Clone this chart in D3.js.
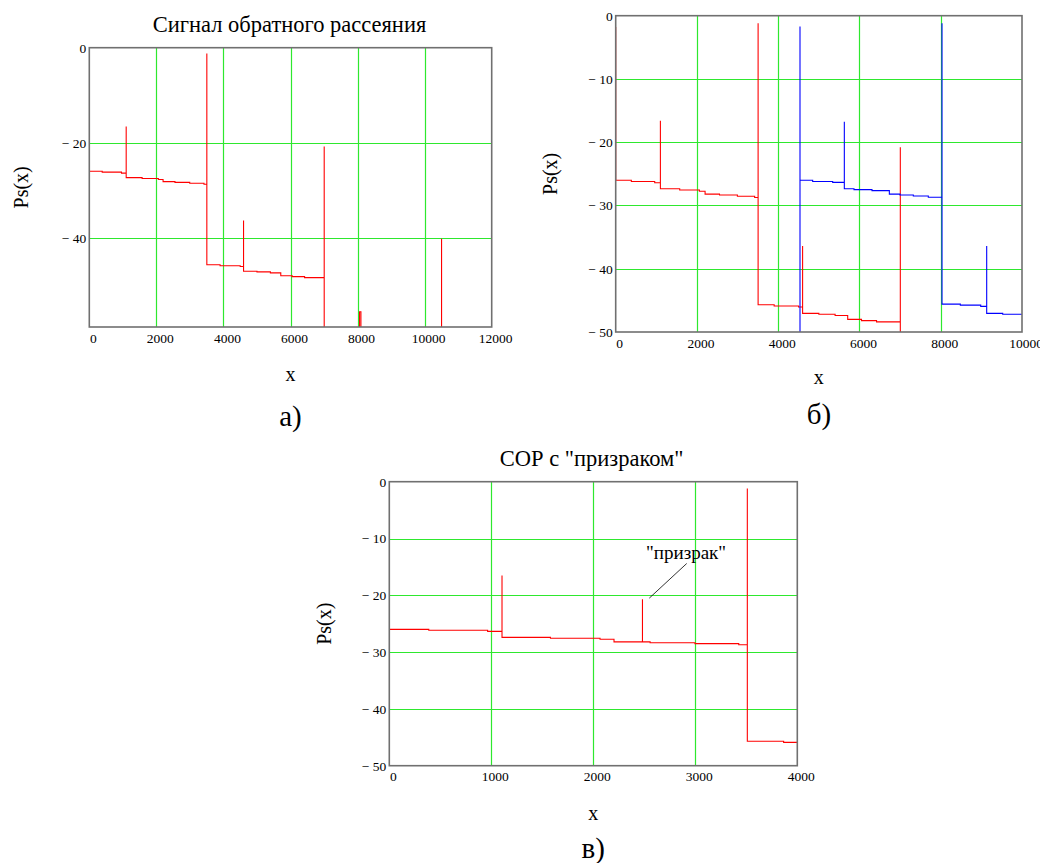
<!DOCTYPE html>
<html>
<head>
<meta charset="utf-8">
<script src="https://cdn.jsdelivr.net/npm/d3@7"></script>
<style>
  html, body { margin: 0; padding: 0; background: #fff; }
  svg { display: block; }
  svg text { font-family: "Liberation Serif", "Times New Roman", Times, "DejaVu Serif", serif !important; fill: #000; }
</style>
</head>
<body>
<svg id="chart" width="1040" height="863"></svg>
<script>
// ---------- DATA ----------
const xTicksA = [0, 2000, 4000, 6000, 8000, 10000, 12000];
const yTicksA = [0, -20, -40];
const xTicksB = [0, 2000, 4000, 6000, 8000, 10000];
const yTicksB = [0, -10, -20, -30, -40, -50];
const xTicksC = [0, 1000, 2000, 3000, 4000];
const yTicksC = [0, -10, -20, -30, -40, -50];

// Backscatter trace (panels а and б, red), [x, Ps]
const redTrace = [
  [0, -1.8], [0, -26.0], [385, -26.0], [385, -26.2], [960, -26.2], [960, -26.4],
  [1100, -26.4], [1100, -16.6], [1100, -27.35], [1575, -27.35], [1575, -27.55],
  [2060, -27.55], [2060, -27.75], [2200, -27.75], [2200, -28.2], [2555, -28.2],
  [2555, -28.35], [2995, -28.35], [2995, -28.55], [3420, -28.55], [3420, -28.75],
  [3505, -28.75], [3505, -1.2], [3505, -45.7], [3900, -45.7], [3900, -45.9],
  [4500, -45.9], [4500, -46.05], [4600, -46.05], [4600, -36.4], [4600, -47.05],
  [5000, -47.05], [5000, -47.2], [5400, -47.2], [5400, -47.4], [5710, -47.4],
  [5710, -48.0], [6050, -48.0], [6050, -48.2], [6420, -48.2], [6420, -48.4],
  [7005, -48.4], [7005, -20.8], [7005, -80], [8060, -80], [8060, -55.6],
  [8100, -55.6], [8100, -80], [10505, -80], [10505, -40.2], [10505, -80], [12000, -80]
];

// Second (shifted) trace on panel б, blue
const blueTrace = [
  [0, -80], [4536, -80], [4536, -1.7], [4536, -26.0], [4848, -26.0], [4848, -26.2],
  [5340, -26.2], [5340, -26.35], [5627, -26.35], [5627, -16.75], [5627, -27.35],
  [5865, -27.35], [5865, -27.5], [6308, -27.5], [6308, -27.65], [6735, -27.65],
  [6735, -28.2], [6997, -28.2], [6997, -28.35], [7325, -28.35], [7325, -28.5],
  [7694, -28.5], [7694, -28.7], [8031, -28.7], [8031, -1.2], [8031, -45.6],
  [8482, -45.6], [8482, -45.75], [8984, -45.75], [8984, -45.95], [9131, -45.95],
  [9131, -36.4], [9131, -47.05], [9525, -47.05], [9525, -47.2], [10000, -47.2]
];

// Trace with "ghost" (panel в)
const ghostTrace = [
  [0, -1.8], [0, -26.0], [387, -26.0], [387, -26.16], [964, -26.16], [964, -26.35],
  [1105, -26.35], [1105, -16.5], [1105, -27.4], [1580, -27.4], [1580, -27.57],
  [2066, -27.57], [2066, -27.75], [2203, -27.75], [2203, -28.2], [2482, -28.2],
  [2482, -20.7], [2482, -28.2], [2557, -28.2], [2557, -28.35], [2997, -28.35],
  [2997, -28.5], [3426, -28.5], [3426, -28.7], [3510, -28.7], [3510, -1.2],
  [3510, -45.7], [3866, -45.7], [3866, -45.9], [4000, -45.9]
];

const ghostLabel = "\"призрак\"";
const ghostLabelPos = [2910, -13.6];
const ghostLeader = [[2916, -14.4], [2549, -20.5]];

// ---------- DRAW ----------
const svg = d3.select("#chart");
const GRID = "#2ee82e";
const FRAME = "#707070";
const SERIF = "'Liberation Serif', 'Times New Roman', Times, 'DejaVu Serif', serif";
const px = v => Math.round(v) + 0.5;

function fmt(d) { return d < 0 ? "\u2212 " + Math.abs(d) : String(d); }

function panel(cfg) {
  const g = svg.append("g");
  const x = d3.scaleLinear().domain(cfg.xDomain).range([cfg.left, cfg.left + cfg.width]);
  const y = d3.scaleLinear().domain(cfg.yDomain).range([cfg.top + cfg.height, cfg.top]);
  const clipId = "clip" + cfg.id;
  svg.append("clipPath").attr("id", clipId).append("rect")
    .attr("x", cfg.left).attr("y", cfg.top).attr("width", cfg.width).attr("height", cfg.height);

  g.append("g").selectAll("line").data(cfg.xGrid).join("line")
    .attr("x1", d => px(x(d))).attr("x2", d => px(x(d)))
    .attr("y1", cfg.top).attr("y2", cfg.top + cfg.height)
    .attr("stroke", GRID).attr("stroke-width", 1.2);
  g.append("g").selectAll("line").data(cfg.yGrid).join("line")
    .attr("x1", cfg.left).attr("x2", cfg.left + cfg.width)
    .attr("y1", d => px(y(d))).attr("y2", d => px(y(d)))
    .attr("stroke", GRID).attr("stroke-width", 1.2);

  const line = d3.line().x(d => x(d[0])).y(d => y(d[1]));
  const tg = g.append("g").attr("clip-path", `url(#${clipId})`);
  cfg.traces.forEach(t => {
    tg.append("path").datum(t.data).attr("d", line)
      .attr("fill", "none").attr("stroke", t.color).attr("stroke-width", 1.1);
  });

  g.append("rect").attr("x", cfg.left).attr("y", cfg.top)
    .attr("width", cfg.width).attr("height", cfg.height)
    .attr("fill", "none").attr("stroke", FRAME).attr("stroke-width", 1.6);

  const xAxis = d3.axisBottom(x).tickValues(cfg.xTicks).tickSize(0).tickPadding(6).tickFormat(fmt);
  const xa = g.append("g").attr("transform", `translate(0,${cfg.top + cfg.height})`).call(xAxis)
    .attr("font-family", SERIF).attr("font-size", 13.5);
  xa.select(".domain").remove();
  xa.selectAll("text").attr("dx", 3.5).attr("fill", "#000");

  const yAxis = d3.axisLeft(y).tickValues(cfg.yTicks).tickSize(0).tickPadding(3).tickFormat(fmt);
  const ya = g.append("g").attr("transform", `translate(${cfg.left},0)`).call(yAxis)
    .attr("font-family", SERIF).attr("font-size", 13.5);
  ya.select(".domain").remove();
  ya.selectAll("text").attr("fill", "#000");

  if (cfg.title) {
    g.append("text").attr("x", cfg.titleX).attr("y", cfg.titleY)
      .attr("text-anchor", "middle").attr("font-family", SERIF).attr("font-size", 22.5).text(cfg.title);
  }
  g.append("text")
    .attr("transform", `translate(${cfg.yLabelX},${cfg.top + cfg.height / 2}) rotate(-90)`)
    .attr("text-anchor", "middle").attr("dy", "0.35em").attr("font-family", SERIF).attr("font-size", 20).text("Ps(x)");
  g.append("text").attr("x", cfg.left + cfg.width / 2).attr("y", cfg.xLabelY)
    .attr("text-anchor", "middle").attr("font-family", SERIF).attr("font-size", 20).text("x");
  g.append("text").attr("x", cfg.left + cfg.width / 2).attr("y", cfg.subY)
    .attr("text-anchor", "middle").attr("font-family", SERIF).attr("font-size", 29).text(cfg.sub);

  return { x, y, g };
}

panel({
  id: "A", left: 89.3, top: 47.7, width: 402.4, height: 279.3,
  xDomain: [0, 12000], yDomain: [-58.8, 0],
  xTicks: xTicksA, yTicks: yTicksA,
  xGrid: xTicksA.slice(1, -1), yGrid: yTicksA.slice(1),
  traces: [{ data: redTrace, color: "#ff0000" }],
  title: "Сигнал обратного рассеяния", titleX: 289.5, titleY: 32,
  yLabelX: 21, xLabelY: 381, sub: "а)", subY: 426
});

panel({
  id: "B", left: 615.7, top: 15.7, width: 406.3, height: 316.3,
  xDomain: [0, 10000], yDomain: [-50, 0],
  xTicks: xTicksB, yTicks: yTicksB,
  xGrid: xTicksB.slice(1, -1), yGrid: yTicksB.slice(1, -1),
  traces: [{ data: redTrace, color: "#ff0000" }, { data: blueTrace, color: "#0000ff" }],
  title: null,
  yLabelX: 550, xLabelY: 384, sub: "б)", subY: 424
});

const pc = panel({
  id: "C", left: 389.3, top: 481.7, width: 408, height: 284,
  xDomain: [0, 4000], yDomain: [-50, 0],
  xTicks: xTicksC, yTicks: yTicksC,
  xGrid: xTicksC.slice(1, -1), yGrid: yTicksC.slice(1, -1),
  traces: [{ data: ghostTrace, color: "#ff0000" }],
  title: "СОР с \"призраком\"", titleX: 591.7, titleY: 466,
  yLabelX: 324, xLabelY: 820, sub: "в)", subY: 858
});

pc.g.append("line")
  .attr("x1", pc.x(ghostLeader[0][0])).attr("y1", pc.y(ghostLeader[0][1]))
  .attr("x2", pc.x(ghostLeader[1][0])).attr("y2", pc.y(ghostLeader[1][1]))
  .attr("stroke", "#000").attr("stroke-width", 0.8);
pc.g.append("text").attr("x", pc.x(ghostLabelPos[0])).attr("y", pc.y(ghostLabelPos[1]))
  .attr("text-anchor", "middle").attr("font-family", SERIF).attr("font-size", 19).text(ghostLabel);
</script>
</body>
</html>
